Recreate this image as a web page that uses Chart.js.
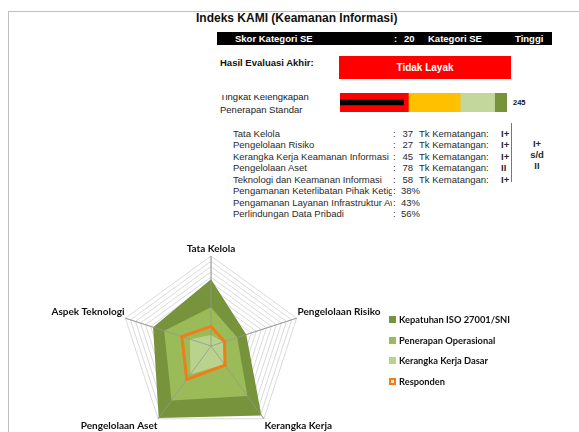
<!DOCTYPE html>
<html>
<head>
<meta charset="utf-8">
<script src="https://cdn.jsdelivr.net/npm/chart.js@4/dist/chart.umd.min.js"></script>
<style>
  html, body { margin: 0; padding: 0; background: #fff; }
  body { width: 579px; height: 432px; position: relative; overflow: hidden; font-family: 'Liberation Sans', Arial, sans-serif; }
  .abs { position: absolute; white-space: nowrap; }
  #bingkai { left: 8px; top: 11px; width: 600px; height: 500px; border-left: 1px solid #bfbfbf; border-top: 1px solid #bfbfbf; }
  #judul { left: 196px; top: 10px; font-size: 12px; font-weight: bold; line-height: 16px; color: #111; }
  #pita { left: 217px; top: 32px; width: 335px; height: 13px; background: #000; }
  .pita-teks { top: 32px; font-size: 9.5px; font-weight: bold; color: #fff; line-height: 13px; }
  #hasil-label { left: 220px; top: 56px; font-size: 9.5px; font-weight: bold; line-height: 13px; color: #111; }
  #hasil-kotak { left: 339px; top: 56px; width: 172px; height: 23px; background: #ff0000; color: #fff; font-weight: bold; font-size: 10px; line-height: 23px; text-align: center; }
  #tingkat-label { left: 220px; top: 95px; height: 22px; width: 110px; overflow: hidden; }
  #tingkat-label div { position: relative; top: -4px; font-size: 9.5px; line-height: 12.5px; color: #222; }
  #kanvas-batang { left: 340px; top: 93px; }
  #skor-total { left: 513px; top: 97px; font-size: 7.5px; font-weight: bold; line-height: 12px; color: #111; }
  .baris { font-size: 9.5px; line-height: 12px; color: #2a2a2a; }
  #garis-tk { left: 511px; top: 123px; width: 1px; height: 59px; background: #777; }
  .kanan { font-size: 9.5px; font-weight: bold; line-height: 12px; color: #2a2a2a; width: 20px; text-align: center; }
  #kanvas-radar { left: 21px; top: 237px; }
  #legenda { left: 389px; top: 309px; font-family: Lato, sans-serif; font-weight: bold; font-size: 9.3px; color: #111; }
  .leg { height: 20.8px; display: flex; align-items: center; }
  .kotak { width: 7px; height: 7px; margin-right: 3px; box-sizing: border-box; }
</style>
</head>
<body>
<div id="bingkai" class="abs"></div>
<canvas id="kanvas-radar" class="abs" width="380" height="206"></canvas>
<div id="judul" class="abs">Indeks KAMI (Keamanan Informasi)</div>
<div id="pita" class="abs"></div>
<div class="abs pita-teks" style="left:235px">Skor Kategori SE</div>
<div class="abs pita-teks" style="left:394px">:</div>
<div class="abs pita-teks" id="skor-se" style="left:404px"></div>
<div class="abs pita-teks" style="left:428px">Kategori SE</div>
<div class="abs pita-teks" id="kategori-se" style="left:515px"></div>
<div id="hasil-label" class="abs">Hasil Evaluasi Akhir:</div>
<div id="hasil-kotak" class="abs"></div>
<div id="tingkat-label" class="abs"><div>Tingkat Kelengkapan<br>Penerapan Standar</div></div>
<canvas id="kanvas-batang" class="abs" width="167" height="19"></canvas>
<div id="skor-total" class="abs"></div>
<div id="tabel"></div>
<div id="garis-tk" class="abs"></div>
<div id="kolom-kanan"></div>
<div id="legenda" class="abs"></div>

<script>
// ringkasan atas
const skorKategoriSE = 20
const kategoriSE = 'Tinggi'
const hasilAkhir = 'Tidak Layak'

// batang tingkat kelengkapan (skala 0 - 645)
const batasNama = ['Tidak Layak', 'Pemenuhan Kerangka Kerja Dasar', 'Cukup Baik', 'Baik']
const batasNilai = [264, 200, 133, 48]
const batasWarna = ['#ff0000', '#ffc000', '#c3d69b', '#77933c']
const skorTotal = [245]

// tabel area
const areaNama = ['Tata Kelola', 'Pengelolaan Risiko', 'Kerangka Kerja Keamanan Informasi', 'Pengelolaan Aset', 'Teknologi dan Keamanan Informasi']
const areaSkor = [37, 27, 45, 78, 58]
const areaTingkat = ['I+', 'I+', 'I+', 'II', 'I+']
const suplemenNama = ['Pengamanan Keterlibatan Pihak Ketiga', 'Pengamanan Layanan Infrastruktur Awan', 'Perlindungan Data Pribadi']
const suplemenPersen = [38, 43, 56]
const rentangTingkat = ['I+', 's/d', 'II']

// radar
const kategori = ['Tata Kelola', 'Pengelolaan Risiko', 'Kerangka Kerja', 'Pengelolaan Aset', 'Aspek Teknologi']
const kepatuhanIso = [126, 70, 162, 168, 115]
const penerapanOperasional = [73, 52, 117, 127, 93]
const kerangkaDasar = [21, 24, 43, 66, 42]
const responden = [37, 27, 45, 78, 58]

document.getElementById('skor-se').innerText = skorKategoriSE
document.getElementById('kategori-se').innerText = kategoriSE
document.getElementById('hasil-kotak').innerText = hasilAkhir
document.getElementById('skor-total').innerText = skorTotal[0]

// baris tabel
const barisY = [127.5, 139, 150.5, 162, 173.6, 185.2, 196.7, 208.3]
let html = ''
areaNama.forEach((n, i) => {
  const y = barisY[i]
  html += `<div class="abs baris" style="left:233px;top:${y}px;width:160px;overflow:hidden">${n}</div>
    <div class="abs baris" style="left:393px;top:${y}px">:</div>
    <div class="abs baris" style="left:400px;top:${y}px;width:13px;text-align:right">${areaSkor[i]}</div>
    <div class="abs baris" style="left:419px;top:${y}px">Tk Kematangan:</div>
    <div class="abs baris" style="left:501px;top:${y}px;font-weight:bold">${areaTingkat[i]}</div>`
})
suplemenNama.forEach((n, j) => {
  const y = barisY[areaNama.length + j]
  html += `<div class="abs baris" style="left:233px;top:${y}px;width:159px;overflow:hidden">${n}</div>
    <div class="abs baris" style="left:393px;top:${y}px">:</div>
    <div class="abs baris" style="left:401px;top:${y}px">${suplemenPersen[j]}%</div>`
})
document.getElementById('tabel').innerHTML = html
document.getElementById('kolom-kanan').innerHTML = rentangTingkat
  .map((t, i) => `<div class="abs kanan" style="left:527px;top:${137.5 + i * 11}px">${t}</div>`)
  .join('')

// batang bertumpuk + skor responden (ditumpuk di atasnya)
const dataBatang = batasNilai.map((v, i) => ({
  label: batasNama[i],
  data: [v],
  backgroundColor: batasWarna[i],
  yAxisID: 'y',
  grouped: false,
  barPercentage: 1,
  categoryPercentage: 1
}))
dataBatang.unshift({
  label: 'Skor',
  data: skorTotal,
  backgroundColor: '#000',
  yAxisID: 'y2',
  grouped: false,
  barThickness: 5
})
new Chart(document.getElementById('kanvas-batang'), {
  type: 'bar',
  data: { labels: [''], datasets: dataBatang },
  options: {
    indexAxis: 'y',
    responsive: false,
    animation: false,
    layout: { padding: 0 },
    scales: {
      x: { min: 0, max: 645, stacked: true, display: false },
      y: { stacked: true, display: false },
      y2: { type: 'category', display: false }
    },
    plugins: { legend: { display: false }, tooltip: { enabled: false } }
  }
})

// garis sumbu di atas isian hijau
const garisSumbu = {
  id: 'garisSumbu',
  afterDatasetDraw(chart, args) {
    if (args.index !== 2) return
    const r = chart.scales.r
    const c = chart.ctx
    c.save()
    c.strokeStyle = 'rgba(150,150,150,0.75)'
    c.lineWidth = 1
    kategori.forEach((_, i) => {
      const p = r.getPointPosition(i, r.drawingArea)
      c.beginPath()
      c.moveTo(r.xCenter, r.yCenter)
      c.lineTo(p.x, p.y)
      c.stroke()
    })
    c.restore()
  }
}

const seri = [
  { label: 'Kepatuhan ISO 27001/SNI', data: kepatuhanIso, warna: '#77933c', order: 3 },
  { label: 'Penerapan Operasional', data: penerapanOperasional, warna: '#9bbb59', order: 2 },
  { label: 'Kerangka Kerja Dasar', data: kerangkaDasar, warna: '#b9d28c', order: 1 }
]
const datasetRadar = seri.map(s => ({
  label: s.label,
  data: s.data,
  backgroundColor: s.warna,
  borderColor: s.warna,
  borderWidth: 0,
  fill: true,
  order: s.order
}))
datasetRadar.push({
  label: 'Responden',
  data: responden,
  borderColor: '#f07d1a',
  borderWidth: 3,
  fill: false,
  order: 0
})

new Chart(document.getElementById('kanvas-radar'), {
  type: 'radar',
  data: { labels: kategori, datasets: datasetRadar },
  options: {
    responsive: false,
    animation: false,
    layout: { padding: 0 },
    elements: { point: { radius: 0 }, line: { tension: 0 } },
    scales: {
      r: {
        min: 0,
        max: 170,
        ticks: { display: false, stepSize: 10 },
        grid: { color: '#dadada' },
        angleLines: { color: '#bdbdbd' },
        pointLabels: {
          color: '#111',
          padding: 1,
          font: { family: 'Lato', size: 10, weight: 'bold' }
        }
      }
    },
    plugins: { legend: { display: false }, tooltip: { enabled: false } }
  },
  plugins: [garisSumbu]
})

// legenda
document.getElementById('legenda').innerHTML = datasetRadar
  .map(d => {
    const gaya = d.fill
      ? `background:${d.backgroundColor}`
      : `border:2px solid ${d.borderColor};background:#fbe3cf`
    return `<div class="leg"><span class="kotak" style="${gaya}"></span>${d.label}</div>`
  })
  .join('')
</script>
</body>
</html>
